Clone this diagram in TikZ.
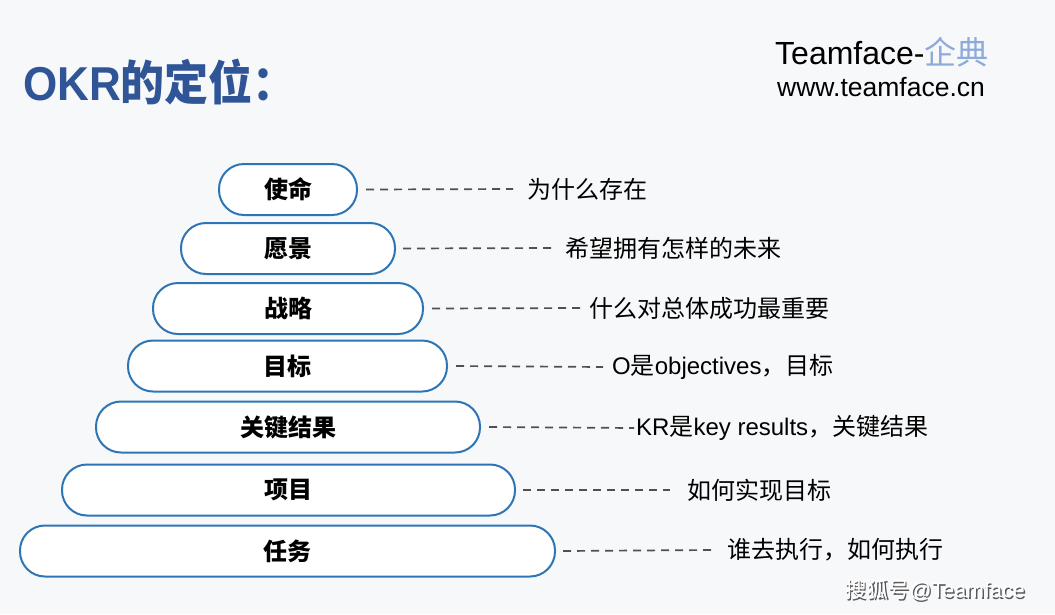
\documentclass[tikz,border=0pt]{standalone}
\usepackage{fontspec}
\setmainfont{Liberation Sans}
\newfontfamily\cjk{Noto Sans CJK SC}
\definecolor{bg}{HTML}{F7F8FA}
\definecolor{boxblue}{HTML}{2E75B6}
\definecolor{titleblue}{HTML}{2F5597}
\definecolor{logoblue}{HTML}{8EA9DB}
\definecolor{dashgray}{HTML}{505050}
\begin{document}
\begin{tikzpicture}[x=1pt,y=-1pt,
  box/.style={draw=boxblue, line width=2pt, fill=white, rounded corners=25pt,
    minimum height=51pt, inner sep=0pt, font=\cjk\bfseries\fontsize{24}{28}\selectfont},
  lead/.style={draw=dashgray, line width=1.7pt, dash pattern=on 8pt off 6pt},
  lab/.style={anchor=west, inner sep=0pt, font=\fontsize{24}{28}\selectfont}]
\fill[bg] (0,0) rectangle (1055,614);
% title and logo
\node[anchor=west, inner sep=0pt, text=titleblue, yscale=1.08, font=\bfseries\fontsize{44}{50}\selectfont] (title) at (23,82) {OKR{\cjk 的定位：}};
\node[anchor=west, inner sep=0pt, font=\fontsize{32}{36}\selectfont] (logo) at (775,52) {Teamface-{\cjk\color{logoblue}企典}};
\node[anchor=west, inner sep=0pt, font=\fontsize{26.5}{30}\selectfont] (url) at (777,87) {www.teamface.cn};
% boxes
\node[box, minimum width=138pt] (b1) at (288,189.5) {使命};
\node[box, minimum width=214pt] (b2) at (288,248.5) {愿景};
\node[box, minimum width=270pt] (b3) at (288,308.5) {战略};
\node[box, minimum width=319pt] (b4) at (287.5,366) {目标};
\node[box, minimum width=384pt] (b5) at (288,427) {关键结果};
\node[box, minimum width=453pt] (b6) at (288.5,490) {项目};
\node[box, minimum width=535pt] (b7) at (287.5,551) {任务};
% labels
\node[lab] (l1) at (527,189) {\cjk 为什么存在};
\node[lab] (l2) at (565,248) {\cjk 希望拥有怎样的未来};
\node[lab] (l3) at (589,308) {\cjk 什么对总体成功最重要};
\node[lab] (l4) at (612,367) {O{\cjk 是}objectives{\cjk ，目标}};
\node[lab] (l5) at (636,428) {KR{\cjk 是}key results{\cjk ，关键结果}};
\node[lab] (l6) at (687,490) {\cjk 如何实现目标};
\node[lab] (l7) at (727,550) {\cjk 谁去执行，如何执行};
% dashed leaders
\draw[lead] ([xshift=8pt]b1.east) -- ([xshift=-14pt]l1.west);
\draw[lead] ([xshift=7pt]b2.east) -- ([xshift=-14pt]l2.west);
\draw[lead] ([xshift=8pt]b3.east) -- ([xshift=-9pt]l3.west);
\draw[lead] ([xshift=8pt]b4.east) -- ([xshift=-9pt]l4.west);
\draw[lead] ([xshift=8pt]b5.east) -- ([xshift=-2pt]l5.west);
\draw[lead] ([xshift=7pt]b6.east) -- ([xshift=-17pt]l6.west);
\draw[lead] ([xshift=7pt]b7.east) -- ([xshift=-15pt]l7.west);
% watermark
\node[anchor=west, inner sep=0pt, text=black!65, font=\fontsize{21.5}{25}\selectfont] (wms) at (846.5,591.5) {{\cjk 搜狐号}@Teamface};
\node[anchor=west, inner sep=0pt, text=white, font=\fontsize{21.5}{25}\selectfont] (wm) at (845,590) {{\cjk 搜狐号}@Teamface};
\end{tikzpicture}
\end{document}
